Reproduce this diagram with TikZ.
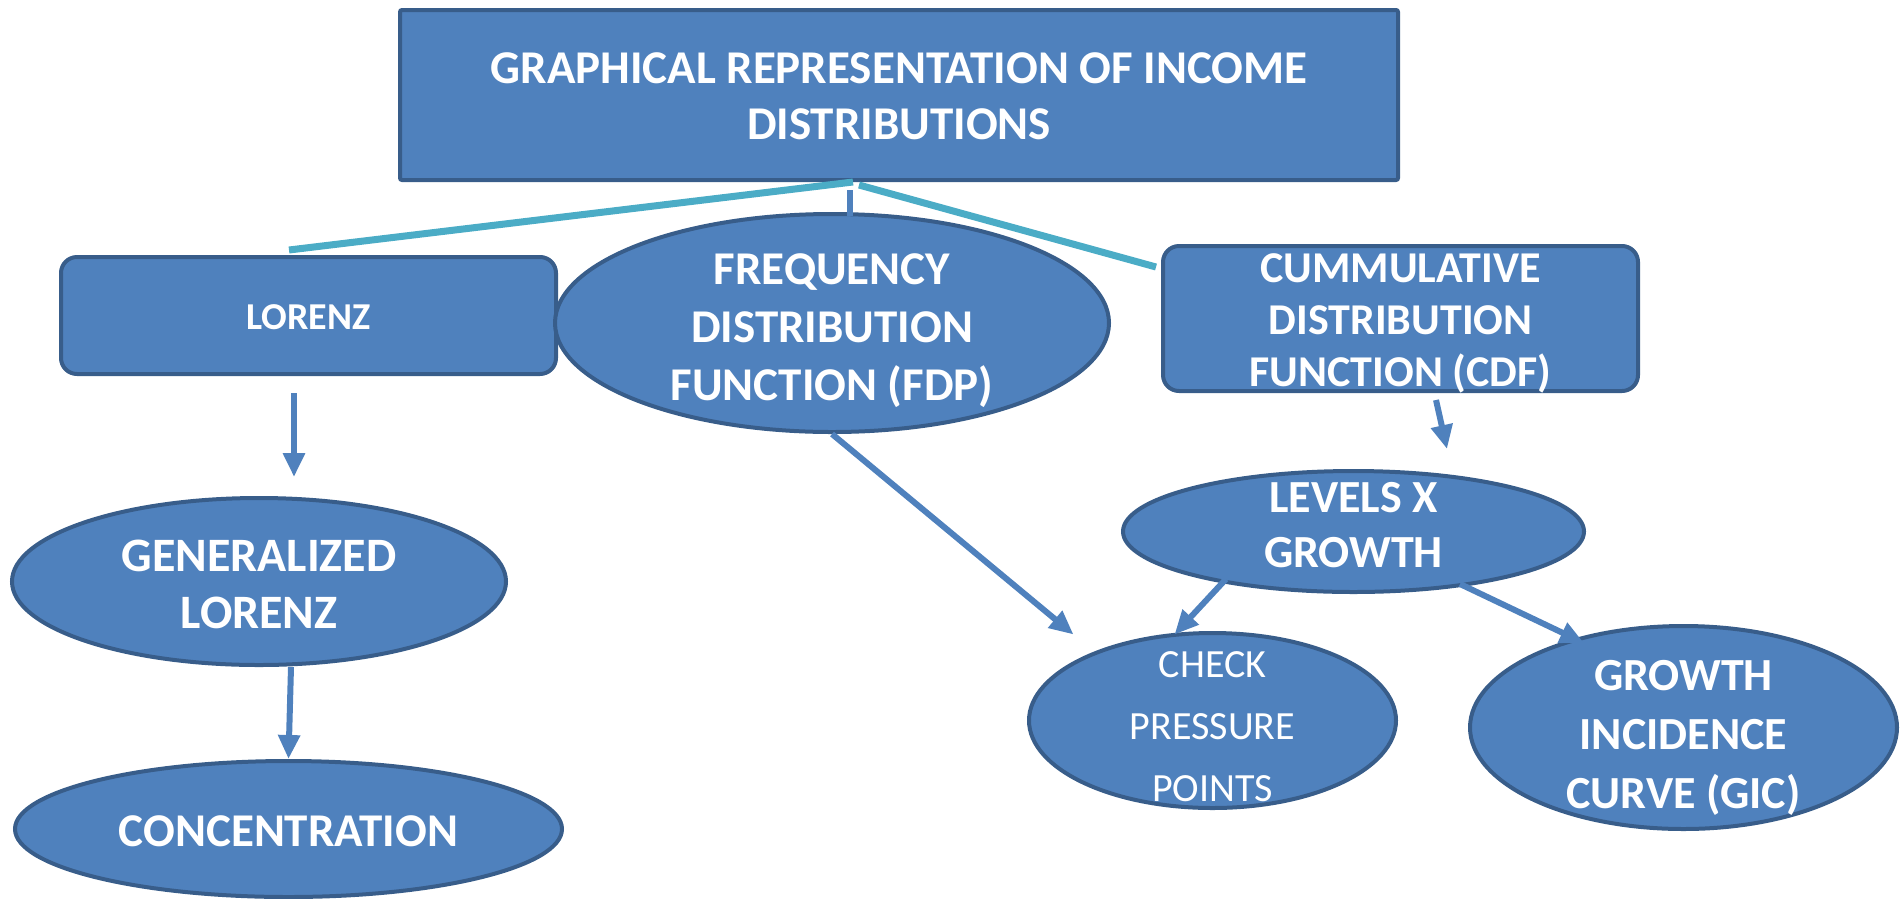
\documentclass[tikz,border=0pt]{standalone}
\usepackage{fontspec}
\setmainfont{Carlito}
\usetikzlibrary{shapes.geometric,arrows.meta,calc}
\definecolor{boxfill}{HTML}{4F81BD}
\definecolor{boxline}{HTML}{385D8A}
\definecolor{cyanline}{HTML}{4BACC6}
\tikzset{
  base/.style={fill=boxfill, draw=boxline, line width=4pt, inner sep=0pt},
  sqbox/.style={base, rectangle, rounded corners=2pt},
  rbox/.style={base, rectangle, rounded corners=16pt},
  ell/.style={base, ellipse},
  txt/.style={text=white, align=center, inner sep=0pt, font=\bfseries},
  arr/.style={draw=boxfill, line width=6pt, -{Triangle[length=24pt,width=21pt]}},
  cyn/.style={draw=cyanline, line width=7pt},
  stub/.style={draw=boxfill, line width=6pt}
}
\begin{document}
\begin{tikzpicture}[x=1pt,y=-1pt]
\useasboundingbox (0,0) rectangle (1903,898);
% shapes
\node[sqbox, minimum width=998pt, minimum height=170pt] (top) at (899,95) {};
\node[rbox, minimum width=495pt, minimum height=117pt] (lorenz) at (308.5,315.5) {};
\node[ell, minimum width=554pt, minimum height=218pt] (fdp) at (832,323) {};
\node[rbox, minimum width=475pt, minimum height=145pt] (cdf) at (1400.5,318.5) {};
\node[ell, minimum width=461pt, minimum height=121pt] (lev) at (1353.5,531.5) {};
\node[ell, minimum width=494pt, minimum height=167pt] (gl) at (259,581.5) {};
\node[ell, minimum width=547pt, minimum height=136pt] (conc) at (288.5,829) {};
\node[ell, minimum width=367pt, minimum height=175pt] (check) at (1212.5,720.5) {};
\node[ell, minimum width=427pt, minimum height=203pt] (gic) at (1683.5,727.5) {};
% texts
\node[txt, font=\bfseries\fontsize{47}{56}\selectfont] (topt) at ($(top.center)+(0,1)$) {GRAPHICAL REPRESENTATION OF INCOME\\DISTRIBUTIONS};
\node[txt, font=\bfseries\fontsize{38}{44}\selectfont] (lorenzt) at ($(lorenz.center)+(0,2)$) {LORENZ};
\node[txt, font=\bfseries\fontsize{47}{58}\selectfont] (fdpt) at ($(fdp.center)+(0,8)$) {FREQUENCY\\DISTRIBUTION\\FUNCTION (FDP)};
\node[txt, font=\bfseries\fontsize{44}{52}\selectfont] (cdft) at ($(cdf.center)+(0,5)$) {CUMMULATIVE\\DISTRIBUTION\\FUNCTION (CDF)};
\node[txt, font=\bfseries\fontsize{46}{55}\selectfont] (levt) at ($(lev.center)+(0,-6)$) {LEVELS X\\GROWTH};
\node[txt, font=\bfseries\fontsize{48}{57}\selectfont] (glt) at ($(gl.center)+(0,3)$) {GENERALIZED\\LORENZ};
\node[txt, font=\bfseries\fontsize{47}{57}\selectfont] (conct) at ($(conc.center)+(0,2)$) {CONCENTRATION};
\node[txt, font=\mdseries\fontsize{40}{62}\selectfont] (checkt) at ($(check.center)+(0,6)$) {CHECK\\PRESSURE\\POINTS};
\node[txt, font=\bfseries\fontsize{46}{59}\selectfont] (gict) at ($(gic.center)+(0,10)$) {GROWTH\\INCIDENCE\\CURVE (GIC)};
% connectors
\draw[cyn] ($(top.south)+(-46,0)$) -- ($(lorenz.north)+(-19.5,-5)$);
\draw[cyn] ($(top.south)+(-40,3)$) -- ($(cdf.west)+(-5,-51.5)$);
\draw[stub] ($(top.south)+(-49,8)$) -- ($(fdp.north)+(18,4)$);
\draw[arr] ($(lorenz.south)+(-14.5,17)$) -- ($(gl.north)+(35,-19)$);
\draw[arr] ($(gl.south)+(32,0)$) -- (conc.north);
\draw[arr] (fdp.south) -- ($(check.center)+(-139,-86)$);
\draw[arr] ($(cdf.south)+(35.5,7)$) -- ($(lev.north)+(93.5,-20)$);
\draw[arr] ($(lev.center)+(-127.5,47.5)$) -- ($(check.center)+(-38,-86)$);
\draw[arr] ($(lev.center)+(106.5,52.5)$) -- ($(gic.center)+(-99.5,-84.5)$);
\end{tikzpicture}
\end{document}
